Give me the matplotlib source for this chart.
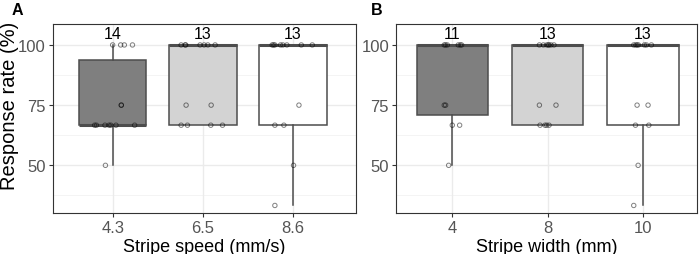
import matplotlib
matplotlib.use("Agg")
import matplotlib.pyplot as plt
import numpy as np

plt.rcParams['font.family'] = ['Liberation Sans', 'DejaVu Sans']

# ---- data ----
speed_labels = ["4.3", "6.5", "8.6"]
width_labels = ["4", "8", "10"]

a1_vals = [100, 100, 100, 100, 75, 75, 66.67, 66.67, 66.67, 66.67, 66.67, 66.67, 66.67, 50]
a1_jit = [0, 0.089, 0.13, 0.22, 0.096, 0.096, -0.2, -0.18, -0.085, -0.04, -0.02, 0.037, 0.244, -0.08]
a2_vals = [100, 100, 100, 100, 100, 100, 100, 75, 75, 66.67, 66.67, 66.67, 66.67]
a2_jit = [-0.24, -0.196, -0.189, -0.03, 0.015, 0.056, 0.137, -0.185, 0.093, -0.24, -0.17, 0.089, 0.219]
a3_vals = [100, 100, 100, 100, 100, 100, 100, 100, 75, 66.67, 66.67, 50, 33.33]
a3_jit = [-0.23, -0.215, -0.2, -0.137, -0.111, -0.067, 0.093, 0.215, 0.067, -0.2, -0.1, 0.007, -0.2]

b1_vals = [100, 100, 100, 100, 100, 100, 75, 75, 66.67, 66.67, 50]
b1_jit = [-0.084, -0.07, -0.052, 0.063, 0.084, 0.098, -0.084, -0.07, 0, 0.077, -0.038]
b2_vals = [100, 100, 100, 100, 100, 100, 100, 75, 75, 66.67, 66.67, 66.67, 66.67]
b2_jit = [-0.087, -0.045, -0.01, 0.014, 0.035, 0.066, 0.007, -0.087, 0.087, -0.08, -0.01, 0.014, -0.028]
b3_vals = [100, 100, 100, 100, 100, 100, 100, 75, 75, 66.67, 66.67, 50, 33.33]
b3_jit = [-0.098, -0.077, -0.063, -0.049, 0.014, 0.035, 0.087, -0.063, 0.052, -0.08, 0.06, -0.052, -0.098]

fills = ["#7f7f7f", "#d3d3d3", "#ffffff"]

fig = plt.figure(figsize=(7.0, 2.55), dpi=100)
axA = fig.add_axes([52.7/700, 41/255, (356-52.7)/700, 189/255])
axB = fig.add_axes([396/700, 41/255, (697-396)/700, 189/255])

def panel(ax, vals, jits, labels, xlabel, xlim):
    pos = [1, 2, 3]
    ax.set_facecolor("white")
    for y in [37.5, 62.5, 87.5]:
        ax.axhline(y, color="#f0f0f0", lw=0.5, zorder=0)
    for y in [50, 75, 100]:
        ax.axhline(y, color="#ebebeb", lw=1.0, zorder=0)
    for x in pos:
        ax.axvline(x, color="#ebebeb", lw=1.0, zorder=0)
    bp = ax.boxplot(vals, positions=pos, widths=0.75, patch_artist=True,
                    showcaps=False, showfliers=False, whis=1.5,
                    boxprops=dict(edgecolor="#4d4d4d", linewidth=1.1),
                    whiskerprops=dict(color="#4d4d4d", linewidth=1.1),
                    medianprops=dict(color="#4d4d4d", linewidth=2.2),
                    zorder=2)
    for patch, c in zip(bp['boxes'], fills):
        patch.set_facecolor(c)
    for p, v, j in zip(pos, vals, jits):
        ax.scatter(np.array(j) + p, v, s=10, facecolors="none",
                   edgecolors=(0, 0, 0, 0.5), linewidths=0.7, zorder=3)
        ax.text(p, 104.8, str(len(v)), ha="center", va="center",
                fontsize=11.5, color="black")
    ax.set_xlim(*xlim)
    ax.set_ylim(30.2, 108.7)
    ax.set_xticks(pos)
    ax.set_xticklabels(labels)
    ax.set_yticks([50, 75, 100])
    ax.tick_params(axis="both", colors="#333333", labelcolor="#555555",
                   labelsize=12, length=3, width=0.8, pad=2)
    for s in ax.spines.values():
        s.set_color("#333333")
        s.set_linewidth(0.8)
    ax.set_xlabel(xlabel, fontsize=13, labelpad=2)

panel(axA, [a1_vals, a2_vals, a3_vals], [a1_jit, a2_jit, a3_jit], speed_labels,
      "Stripe speed (mm/s)", (0.335, 3.7))
panel(axB, [b1_vals, b2_vals, b3_vals], [b1_jit, b2_jit, b3_jit], width_labels,
      "Stripe width (mm)", (0.41, 3.565))

fig.text(10/700, 1 - 106/255, "Response rate (%)", fontsize=14.5, rotation=90,
         ha="center", va="center")

fig.text(12/700, 1 - 3/255, "A", fontsize=11.5, fontweight="bold", ha="left", va="top")
fig.text(371/700, 1 - 3/255, "B", fontsize=11.5, fontweight="bold", ha="left", va="top")

fig.savefig("out.png", dpi=100)
